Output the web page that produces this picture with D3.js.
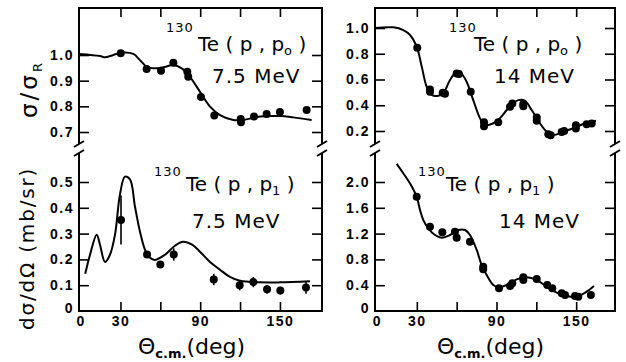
<!DOCTYPE html>
<meta charset="utf-8">
<style>
body { margin: 0; background: #fff; }
svg { font-family: "DejaVu Sans", sans-serif; }
.frame { fill: none; stroke: #000; stroke-width: 2px; }
.curve { fill: none; stroke: #000; stroke-width: 2px; }
.tick line { stroke: #000; stroke-width: 1.6px; }
.tick text { font-size: 14px; font-weight: bold; letter-spacing: 1.5px; fill: #000; }
.dot { fill: #000; }
.err { stroke: #000; stroke-width: 1.6px; }
.lab { fill: #000; }
</style>
<body>
<svg width="626" height="362"></svg>
<script src="https://d3js.org/d3.v7.min.js"></script>
<script>

// tick values
var xTicks = [0, 30, 60, 90, 120, 150];
var xLabeled = [0, 30, 90, 150];
var ticks75u = [0.7, 0.8, 0.9, 1.0];
var ticks75l = [0, 0.1, 0.2, 0.3, 0.4, 0.5];
var ticks14u = [0.2, 0.4, 0.6, 0.8, 1.0];
var ticks14l = [0, 0.4, 0.8, 1.2, 1.6, 2.0];

// 7.5 MeV (p,p0): measured sigma/sigmaR [deg, ratio]
var el75 = [[30.2,1.007],[49.7,0.945],[60.5,0.939],[69.8,0.970],[80.3,0.935],[81.0,0.915],
  [90.6,0.836],[100.6,0.764],[120.5,0.751],[120.7,0.738],[130.5,0.760],[140.0,0.770],
  [150.0,0.778],[170.1,0.786]];
var el75fit = [[-1.2,1.004],[14.6,0.996],[18.4,0.991],[24.6,1.0],[32.1,1.01],[39.7,1.004],
  [44.7,0.98],[49.7,0.954],[54.7,0.948],[62.2,0.952],[69.8,0.961],[76.1,0.948],[82.3,0.915],
  [89.8,0.857],[97.4,0.799],[104.9,0.766],[114.9,0.747],[122.4,0.747],[135.0,0.760],
  [150.0,0.762],[160.0,0.757],[173.9,0.747]];

// 7.5 MeV (p,p1): dsigma/dOmega (mb/sr) [deg, value, error]
var in75 = [[30.4,0.353,0.095],[50.0,0.219,0.012],[60.0,0.180,0.012],[70.1,0.219,0.024],
  [100.2,0.122,0.022],[119.7,0.100,0.02],[130.0,0.112,0.02],[140.3,0.084,0.017],
  [150.3,0.079,0.015],[169.6,0.091,0.024]];
var in75fit = [[3.5,0.144],[7.1,0.218],[12.1,0.296],[14.6,0.257],[18.4,0.19],[22.1,0.218],
  [25.9,0.296],[29.6,0.451],[33.4,0.521],[37.2,0.51],[40.9,0.405],[44.7,0.307],[48.5,0.237],
  [52.2,0.206],[56.0,0.198],[63.5,0.218],[71.0,0.253],[77.1,0.268],[83.9,0.257],[89.8,0.23],
  [97.4,0.19],[104.9,0.16],[112.4,0.132],[119.9,0.117],[135.0,0.111],[150.0,0.111],[172.6,0.115]];

// 14 MeV (p,p0)
var el14 = [[30.3,0.847],[39.9,0.523],[39.9,0.504],[49.5,0.497],[51.2,0.490],[60.0,0.647],
  [61.7,0.642],[70.6,0.504],[80.6,0.268],[80.6,0.237],[91.3,0.268],[100.2,0.388],[101.9,0.414],
  [110.2,0.409],[110.2,0.393],[120.3,0.305],[120.3,0.279],[129.0,0.175],[130.8,0.167],
  [139.1,0.193],[141.0,0.200],[149.8,0.245],[149.8,0.219],[157.9,0.253],[161.7,0.258]];
var el14fit = [[-1.5,1.0],[12.3,1.005],[19.8,0.984],[24.8,0.946],[29.9,0.855],[33.7,0.70],
  [37.4,0.544],[41.2,0.48],[46.2,0.474],[49.9,0.493],[55.0,0.596],[60.0,0.66],[63.8,0.643],
  [67.5,0.583],[72.5,0.44],[77.6,0.298],[81.3,0.247],[87.6,0.26],[92.5,0.298],[97.7,0.363],
  [102.6,0.415],[106.4,0.44],[111.4,0.435],[116.5,0.363],[122.7,0.26],[127.8,0.195],
  [132.8,0.169],[140.3,0.195],[147.8,0.221],[155.3,0.254],[164.9,0.28]];

// 14 MeV (p,p1)
var in14 = [[29.9,1.772],[39.9,1.307],[49.2,1.220],[58.7,1.229],[60.0,1.136],[70.0,1.074],
  [80.0,0.687],[80.0,0.647],[91.9,0.352],[100.2,0.388],[101.9,0.429],[110.2,0.522],
  [110.2,0.481],[120.3,0.496],[128.2,0.403],[132.0,0.352],[139.1,0.274],[141.6,0.248],
  [149.1,0.233],[151.6,0.222],[161.1,0.248]];
var in14fit = [[14.8,2.28],[19.8,2.135],[24.8,1.98],[29.9,1.77],[32.4,1.566],[34.9,1.41],
  [38.6,1.282],[43.7,1.178],[48.7,1.137],[55.0,1.178],[61.2,1.256],[66.3,1.256],[70.0,1.178],
  [75.1,0.946],[78.8,0.713],[82.6,0.558],[87.6,0.403],[91.3,0.367],[97.7,0.403],[105.2,0.491],
  [112.7,0.522],[120.3,0.48],[127.8,0.377],[135.3,0.284],[142.8,0.233],[150.4,0.222],
  [157.9,0.299],[163.4,0.388]];

var svg = d3.select("svg");
var yTop = 8, yBottom = 311, brk1 = 144, brk2 = 153;

var panels = [
  { x0: 79, x1: 322, xr: [80.6, 319.8],
    yu: d3.scaleLinear().domain([0.7, 1.0]).range([132, 55]), tu: ticks75u,
    yl: d3.scaleLinear().domain([0, 0.5]).range([311, 182]), tl: ticks75l,
    el: el75, elfit: el75fit, inel: in75, infit: in75fit, err: true,
    lab: { x: 166, x2: 198, e: "7.5 MeV", ex: 212, ix: 154, ix2: 186, iex: 192 },
    xlab: 138 },
  { x0: 375, x1: 615, xr: [377, 616],
    yu: d3.scaleLinear().domain([0.2, 1.0]).range([131, 28]), tu: ticks14u,
    yl: d3.scaleLinear().domain([0, 2.0]).range([311, 182]), tl: ticks14l,
    el: el14, elfit: el14fit, inel: in14, infit: in14fit, err: false,
    lab: { x: 449, x2: 474, e: "14 MeV", ex: 494, ix: 418, ix2: 446, iex: 499 },
    xlab: 437 }
];

function fmt(d) { return d === 0 ? "0" : d3.format(".1f")(d); }

panels.forEach(function(p) {
  var x = d3.scaleLinear().domain([0, 180]).range(p.xr);
  var g = svg.append("g");

  // frame with axis breaks
  var fr = d3.path();
  fr.moveTo(p.x0, brk1); fr.lineTo(p.x0, yTop); fr.lineTo(p.x1, yTop); fr.lineTo(p.x1, brk1);
  fr.moveTo(p.x0, brk2); fr.lineTo(p.x0, yBottom); fr.lineTo(p.x1, yBottom); fr.lineTo(p.x1, brk2);
  [p.x0, p.x1].forEach(function(xx) {
    [brk1, brk2].forEach(function(yy) {
      fr.moveTo(xx - 5, yy + 3); fr.lineTo(xx + 5, yy - 3);
    });
  });
  g.append("path").attr("class", "frame").attr("d", fr.toString());

  // x axes (ticks inward)
  g.append("g").attr("transform", "translate(0," + yTop + ")")
    .call(d3.axisTop(x).tickValues(xTicks.slice(1)).tickSize(-9).tickFormat(""))
    .call(function(s) { s.select(".domain").remove(); });
  g.append("g").attr("transform", "translate(0," + yBottom + ")")
    .call(d3.axisBottom(x).tickValues(xTicks).tickSize(-9).tickPadding(5)
      .tickFormat(function(d) { return xLabeled.indexOf(d) >= 0 ? d : ""; }))
    .call(function(s) {
      s.select(".domain").remove();
      s.selectAll(".tick").filter(function(d) { return d === 0; }).select("line").remove();
    });

  // y axes
  [[p.yu, p.tu], [p.yl, p.tl]].forEach(function(a) {
    g.append("g").attr("transform", "translate(" + p.x0 + ",0)")
      .call(d3.axisLeft(a[0]).tickValues(a[1]).tickSize(-10).tickPadding(5).tickFormat(fmt))
      .call(function(s) {
        s.select(".domain").remove();
        s.selectAll(".tick").filter(function(d) { return d === 0; }).select("line").remove();
        s.selectAll(".tick").filter(function(d) { return d === 0; }).select("text").attr("dy", "0.1em");
      });
    g.append("g").attr("transform", "translate(" + p.x1 + ",0)")
      .call(d3.axisRight(a[0]).tickValues(a[1].filter(function(d) { return d > 0; })).tickSize(-10).tickFormat(""))
      .call(function(s) { s.select(".domain").remove(); });
  });

  // curves
  var lu = d3.line().x(function(d) { return x(d[0]); }).y(function(d) { return p.yu(d[1]); })
    .curve(d3.curveCatmullRom.alpha(0.5));
  var ll = d3.line().x(function(d) { return x(d[0]); }).y(function(d) { return p.yl(d[1]); })
    .curve(d3.curveCatmullRom.alpha(0.5));
  g.append("path").datum(p.elfit).attr("class", "curve").attr("d", lu);
  g.append("path").datum(p.infit).attr("class", "curve").attr("d", ll);

  // error bars
  if (p.err) {
    g.selectAll(".err").data(p.inel).enter().append("line").attr("class", "err")
      .attr("x1", function(d) { return x(d[0]); }).attr("x2", function(d) { return x(d[0]); })
      .attr("y1", function(d) { return p.yl(d[1] - d[2]); })
      .attr("y2", function(d) { return p.yl(d[1] + d[2]); });
  }

  // data points
  g.selectAll(".du").data(p.el).enter().append("circle").attr("class", "dot")
    .attr("cx", function(d) { return x(d[0]); }).attr("cy", function(d) { return p.yu(d[1]); })
    .attr("r", 4);
  g.selectAll(".dl").data(p.inel).enter().append("circle").attr("class", "dot")
    .attr("cx", function(d) { return x(d[0]); }).attr("cy", function(d) { return p.yl(d[1]); })
    .attr("r", 4);

  // reaction labels
  [[32, 51, "o", p.lab.x, p.lab.x2], [176, 191, "1", p.lab.ix, p.lab.ix2]].forEach(function(r) {
    g.append("text").attr("class", "lab").attr("x", r[3]).attr("y", r[0])
      .style("font-size", "13px").style("letter-spacing", "1px").text("130");
    var t = g.append("text").attr("class", "lab").attr("x", r[4]).attr("y", r[1])
      .style("font-size", "20px");
    t.append("tspan").text("Te ( p , p");
    t.append("tspan").attr("dy", 4).style("font-size", "13px").text(r[2]);
    t.append("tspan").attr("dy", -4).text(" )");
  });
  g.append("text").attr("class", "lab").attr("x", p.lab.ex).attr("y", 83)
    .style("font-size", "20px").style("letter-spacing", "1px").text(p.lab.e);
  g.append("text").attr("class", "lab").attr("x", p.lab.iex).attr("y", 228)
    .style("font-size", "20px").style("letter-spacing", "1px").text(p.lab.e);

  // x axis title
  var xt = g.append("text").attr("class", "lab").attr("x", p.xlab).attr("y", 354)
    .style("font-size", "22px");
  xt.append("tspan").text("Θ");
  xt.append("tspan").attr("dy", 4).style("font-size", "13px").style("font-weight", "bold").text("c.m.");
  xt.append("tspan").attr("dy", -4).text("(deg)");
});

// y axis titles
var y1 = svg.append("text").attr("class", "lab")
  .attr("transform", "translate(37,118) rotate(-90)").style("font-size", "23px")
  .style("letter-spacing", "3px");
y1.append("tspan").text("σ/σ");
y1.append("tspan").attr("dy", 5).style("font-size", "13px").text("R");

svg.append("text").attr("class", "lab")
  .attr("transform", "translate(34,330) rotate(-90)").style("font-size", "20px")
  .style("letter-spacing", "1.8px")
  .text("dσ/dΩ  (mb/sr)");

</script>
</body>
